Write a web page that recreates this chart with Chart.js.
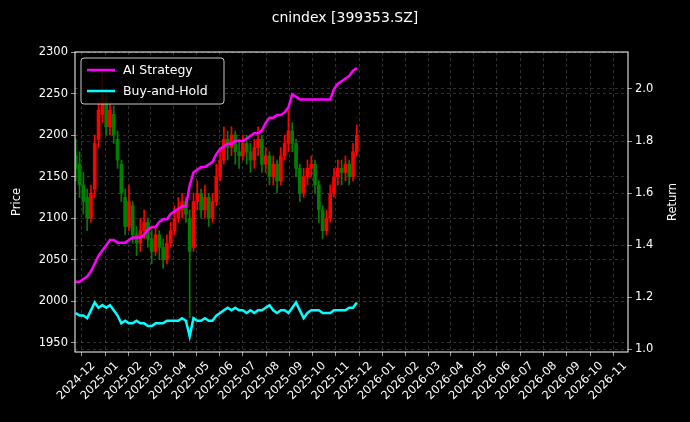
<!DOCTYPE html>
<html><head><meta charset="utf-8">
<script src="https://cdn.jsdelivr.net/npm/chart.js@4/dist/chart.umd.min.js"></script>
<style>html,body{margin:0;background:#000}#w{width:690px;height:422px}</style>
</head><body><div id="w"><canvas id="c"></canvas></div>
<script>
const startDate = '2024-11-08';
const stepDays = 5;
const closes = [2160,2140,2120,2100,2130,2190,2230,2250,2210,2230,
2200,2170,2130,2090,2120,2080,2070,2085,2095,2075,
2060,2080,2065,2050,2070,2085,2100,2110,2120,2105,
2060,2120,2130,2110,2125,2100,2120,2150,2170,2195,
2185,2200,2180,2175,2190,2180,2170,2185,2195,2165,
2175,2150,2165,2145,2175,2190,2205,2190,2160,2130,
2150,2160,2165,2140,2110,2085,2100,2130,2150,2160,
2155,2165,2150,2180,2200];
const opens = [2175,2165,2140,2125,2100,2135,2195,2225,2245,2210,
2225,2195,2165,2125,2090,2115,2080,2070,2085,2095,
2075,2060,2080,2065,2050,2070,2085,2100,2110,2120,
2100,2065,2120,2130,2110,2125,2100,2120,2150,2170,
2195,2185,2200,2180,2175,2190,2180,2170,2185,2195,
2165,2175,2150,2165,2145,2175,2190,2205,2190,2160,
2130,2150,2160,2165,2140,2110,2085,2100,2130,2150,
2160,2155,2165,2150,2180];
const highs = [2195,2180,2155,2135,2140,2200,2240,2275,2250,2240,
2235,2205,2170,2135,2140,2120,2090,2100,2110,2100,
2085,2090,2085,2075,2080,2095,2115,2125,2130,2125,
2110,2130,2145,2135,2140,2130,2130,2165,2185,2210,
2205,2210,2205,2195,2200,2200,2190,2195,2210,2200,
2185,2180,2175,2170,2185,2200,2230,2215,2195,2165,
2160,2170,2175,2170,2145,2115,2110,2140,2160,2170,
2170,2175,2170,2190,2212];
const lows = [2145,2125,2105,2085,2095,2125,2185,2215,2200,2200,
2190,2160,2120,2080,2085,2070,2055,2060,2075,2065,
2045,2055,2050,2040,2045,2065,2080,2095,2100,2095,
1980,2060,2110,2100,2100,2090,2095,2115,2145,2165,
2170,2175,2165,2160,2170,2165,2155,2160,2175,2155,
2155,2140,2140,2130,2140,2170,2180,2180,2150,2120,
2125,2140,2150,2130,2095,2075,2080,2095,2125,2140,
2140,2145,2140,2145,2175];
const aiStrategy = [1.26,1.26,1.27,1.28,1.30,1.33,1.36,1.38,1.40,1.42,
1.42,1.41,1.41,1.41,1.42,1.43,1.43,1.43,1.44,1.46,
1.47,1.47,1.49,1.50,1.50,1.52,1.53,1.54,1.55,1.55,
1.63,1.68,1.69,1.70,1.70,1.71,1.72,1.75,1.77,1.78,
1.79,1.79,1.80,1.80,1.80,1.81,1.82,1.83,1.83,1.84,
1.87,1.89,1.89,1.90,1.90,1.91,1.93,1.98,1.97,1.96,
1.96,1.96,1.96,1.96,1.96,1.96,1.96,1.96,2.00,2.02,
2.03,2.04,2.05,2.07,2.08];
const buyHold = [1.14,1.13,1.13,1.12,1.15,1.18,1.16,1.17,1.16,1.17,
1.15,1.13,1.10,1.11,1.10,1.10,1.11,1.10,1.10,1.09,
1.09,1.10,1.10,1.10,1.11,1.11,1.11,1.11,1.12,1.11,
1.05,1.12,1.11,1.11,1.12,1.11,1.11,1.13,1.14,1.15,
1.16,1.15,1.16,1.15,1.15,1.14,1.15,1.14,1.15,1.15,
1.16,1.17,1.15,1.14,1.15,1.15,1.14,1.16,1.18,1.15,
1.12,1.14,1.15,1.15,1.15,1.14,1.14,1.14,1.15,1.15,
1.15,1.15,1.16,1.16,1.18];
const priceTicks = [1950,2000,2050,2100,2150,2200,2250,2300];
const returnTicks = [1.0,1.2,1.4,1.6,1.8,2.0];

const DAY = 86400000;
const t0 = Date.parse(startDate+'T00:00:00Z');
const xs = closes.map((_, i) => t0 + i*stepDays*DAY);
const monthTicks = [];
for (let m = 0; m < 24; m++) monthTicks.push(Date.UTC(2024, 11 + m, 1));
const fmt = v => { const d = new Date(v); return d.getUTCFullYear() + '-' + String(d.getUTCMonth()+1).padStart(2,'0'); };
const up = closes.map((c,i) => c >= opens[i]);
const candleCol = up.map(u => u ? '#ff0000' : '#008000');
const F = 'DejaVu Sans';
const grid = {color:'rgba(200,200,200,0.4)', lineWidth:0.6, tickColor:'#fff', tickLength:4};
const border = {display:false, dash:[3,3]};

const overlay = {
  id:'overlay',
  afterDraw(ch){
    const c = ch.ctx, a = ch.chartArea;
    c.save();
    c.strokeStyle='#fff'; c.lineWidth=1;
    c.strokeRect(a.left, a.top, a.right-a.left, a.bottom-a.top);
    c.fillStyle='#fff'; c.font='14px "'+F+'"'; c.textAlign='center'; c.textBaseline='middle';
    c.fillText('cnindex [399353.SZ]', 345, 18);
    c.font='11.5px "'+F+'"';
    const my=(a.top+a.bottom)/2;
    c.save(); c.translate(17,my); c.rotate(-Math.PI/2); c.fillText('Price',0,0); c.restore();
    c.save(); c.translate(673,my); c.rotate(-Math.PI/2); c.fillText('Return',0,0); c.restore();
    const lx=a.left+6, ly=a.top+6;
    c.fillStyle='rgba(0,0,0,0.8)'; c.strokeStyle='rgba(220,220,220,0.9)';
    c.beginPath(); c.roundRect(lx, ly, 143, 46, 3); c.fill(); c.stroke();
    const items=[['AI Strategy','#ff00ff'],['Buy-and-Hold','#00ffff']];
    c.font='12.5px "'+F+'"'; c.textAlign='left';
    items.forEach((it,k)=>{
      const yy=ly+12+k*21;
      c.strokeStyle=it[1]; c.lineWidth=2.5;
      c.beginPath(); c.moveTo(lx+6,yy); c.lineTo(lx+34,yy); c.stroke();
      c.fillStyle='#fff'; c.fillText(it[0], lx+42, yy+1);
    });
    c.restore();
  }
};

new Chart(document.getElementById('c'), {
  data:{datasets:[
    {type:'bar', yAxisID:'y', data:xs.map((x,i)=>({x, y:[lows[i],highs[i]]})), backgroundColor:candleCol, barThickness:1, grouped:false, order:3},
    {type:'bar', yAxisID:'y', data:xs.map((x,i)=>({x, y:[opens[i],closes[i]]})), backgroundColor:candleCol, barThickness:3, grouped:false, order:2},
    {type:'line', yAxisID:'y1', data:xs.map((x,i)=>({x, y:aiStrategy[i]})), borderColor:'#ff00ff', borderWidth:2.5, pointRadius:0, tension:0, order:1},
    {type:'line', yAxisID:'y1', data:xs.map((x,i)=>({x, y:buyHold[i]})), borderColor:'#00ffff', borderWidth:2.5, pointRadius:0, tension:0, order:0}
  ]},
  options:{
    responsive:true, maintainAspectRatio:false, animation:false,
    layout:{padding:{top:52,left:6,right:6,bottom:0}},
    plugins:{legend:{display:false}, tooltip:{enabled:false}},
    scales:{
      x:{type:'linear', min:Date.UTC(2024,10,7), max:Date.UTC(2026,10,5), offset:false,
        afterBuildTicks:s=>{s.ticks=monthTicks.map(v=>({value:v}));},
        afterFit:s=>{s.height=70;},
        ticks:{color:'#fff', font:{family:F,size:11.5}, maxRotation:45, minRotation:45, autoSkip:false, callback:v=>fmt(v)},
        grid:{...grid}, border},
      y:{type:'linear', position:'left', min:1939, max:2300,
        afterBuildTicks:s=>{s.ticks=priceTicks.map(v=>({value:v}));},
        afterFit:s=>{s.width=69;},
        ticks:{color:'#fff', font:{family:F,size:11.5}, callback:v=>String(v)},
        grid:{...grid}, border},
      y1:{type:'linear', position:'right', min:0.99, max:2.142,
        afterBuildTicks:s=>{s.ticks=returnTicks.map(v=>({value:v}));},
        afterFit:s=>{s.width=56;},
        ticks:{color:'#fff', font:{family:F,size:11.5}, callback:v=>v.toFixed(1)},
        grid:{...grid}, border}
    }
  },
  plugins:[overlay]
});
</script></body></html>
